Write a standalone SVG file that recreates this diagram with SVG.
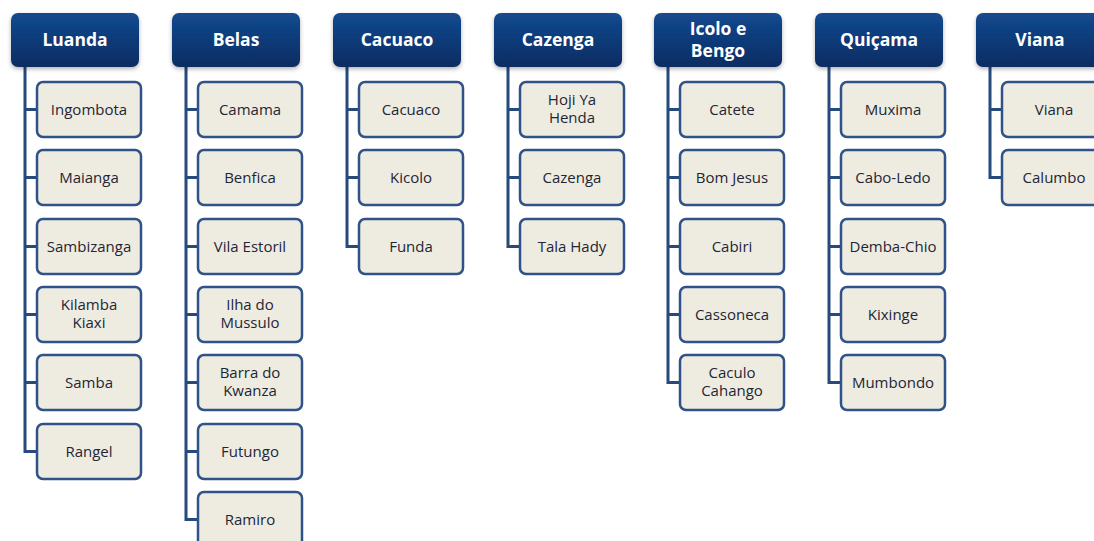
<svg xmlns="http://www.w3.org/2000/svg" width="1094" height="541" viewBox="0 0 1094 541">
<defs>
<linearGradient id="hg" x1="0" y1="0" x2="0" y2="1">
<stop offset="0" stop-color="#134a8f"/>
<stop offset="1" stop-color="#0a2c62"/>
</linearGradient>
<filter id="sh" x="-10%" y="-10%" width="120%" height="140%">
<feDropShadow dx="0" dy="2" stdDeviation="2" flood-color="#000" flood-opacity="0.3"/>
</filter>
<style>
.h rect{fill:url(#hg);filter:url(#sh)}
.h text{font-family:"Open Sans","DejaVu Sans",sans-serif;font-weight:700;font-size:17.5px;fill:#fff;text-anchor:middle}
.c rect{fill:#eeece1;stroke:#2f5289;stroke-width:2.5}
.c text{font-family:"Open Sans","DejaVu Sans",sans-serif;font-size:15px;fill:#1e2636;text-anchor:middle}
.cn path{fill:none;stroke:#274a7d;stroke-width:3;stroke-linejoin:miter}
</style>
</defs>
<rect width="1094" height="541" fill="#fff"/>
<g class="cn" id="connectors">
<path d="M25 67V451.5H37M25 109.5H37M25 177.5H37M25 246.5H37M25 314.5H37M25 382.5H37"/>
<path d="M186 67V519.5H198M186 109.5H198M186 177.5H198M186 246.5H198M186 314.5H198M186 382.5H198M186 451.5H198"/>
<path d="M347 67V246.5H359M347 109.5H359M347 177.5H359"/>
<path d="M508 67V246.5H520M508 109.5H520M508 177.5H520"/>
<path d="M668 67V382.5H680M668 109.5H680M668 177.5H680M668 246.5H680M668 314.5H680"/>
<path d="M829 67V382.5H841M829 109.5H841M829 177.5H841M829 246.5H841M829 314.5H841"/>
<path d="M990 67V177.5H1002M990 109.5H1002"/>
</g>
<g class="h" id="h-luanda"><rect x="11" y="13" width="128" height="54" rx="7"/><text x="75" y="46">Luanda</text></g>
<g class="h" id="h-belas"><rect x="172" y="13" width="128" height="54" rx="7"/><text x="236" y="46">Belas</text></g>
<g class="h" id="h-cacuaco"><rect x="333" y="13" width="128" height="54" rx="7"/><text x="397" y="46">Cacuaco</text></g>
<g class="h" id="h-cazenga"><rect x="494" y="13" width="128" height="54" rx="7"/><text x="558" y="46">Cazenga</text></g>
<g class="h" id="h-icolo"><rect x="654" y="13" width="128" height="54" rx="7"/><text x="718" y="35">Icolo e</text><text x="718" y="57">Bengo</text></g>
<g class="h" id="h-quicama"><rect x="815" y="13" width="128" height="54" rx="7"/><text x="879" y="46">Quiçama</text></g>
<g class="h" id="h-viana"><rect x="976" y="13" width="128" height="54" rx="7"/><text x="1040" y="46">Viana</text></g>

<g class="c" id="ingombota"><rect x="37" y="82" width="104" height="55" rx="6"/><text x="89" y="114.5">Ingombota</text></g>
<g class="c" id="maianga"><rect x="37" y="150" width="104" height="55" rx="6"/><text x="89" y="182.5">Maianga</text></g>
<g class="c" id="sambizanga"><rect x="37" y="219" width="104" height="55" rx="6"/><text x="89" y="251.5">Sambizanga</text></g>
<g class="c" id="kilamba"><rect x="37" y="287" width="104" height="55" rx="6"/><text x="89" y="309.5">Kilamba</text><text x="89" y="327.5">Kiaxi</text></g>
<g class="c" id="samba"><rect x="37" y="355" width="104" height="55" rx="6"/><text x="89" y="387.5">Samba</text></g>
<g class="c" id="rangel"><rect x="37" y="424" width="104" height="55" rx="6"/><text x="89" y="456.5">Rangel</text></g>

<g class="c" id="camama"><rect x="198" y="82" width="104" height="55" rx="6"/><text x="250" y="114.5">Camama</text></g>
<g class="c" id="benfica"><rect x="198" y="150" width="104" height="55" rx="6"/><text x="250" y="182.5">Benfica</text></g>
<g class="c" id="vila-estoril"><rect x="198" y="219" width="104" height="55" rx="6"/><text x="250" y="251.5">Vila Estoril</text></g>
<g class="c" id="ilha"><rect x="198" y="287" width="104" height="55" rx="6"/><text x="250" y="309.5">Ilha do</text><text x="250" y="327.5">Mussulo</text></g>
<g class="c" id="barra"><rect x="198" y="355" width="104" height="55" rx="6"/><text x="250" y="377.5">Barra do</text><text x="250" y="395.5">Kwanza</text></g>
<g class="c" id="futungo"><rect x="198" y="424" width="104" height="55" rx="6"/><text x="250" y="456.5">Futungo</text></g>
<g class="c" id="ramiro"><rect x="198" y="492" width="104" height="55" rx="6"/><text x="250" y="524.5">Ramiro</text></g>

<g class="c" id="cacuaco"><rect x="359" y="82" width="104" height="55" rx="6"/><text x="411" y="114.5">Cacuaco</text></g>
<g class="c" id="kicolo"><rect x="359" y="150" width="104" height="55" rx="6"/><text x="411" y="182.5">Kicolo</text></g>
<g class="c" id="funda"><rect x="359" y="219" width="104" height="55" rx="6"/><text x="411" y="251.5">Funda</text></g>

<g class="c" id="hoji"><rect x="520" y="82" width="104" height="55" rx="6"/><text x="572" y="104.5">Hoji Ya</text><text x="572" y="122.5">Henda</text></g>
<g class="c" id="cazenga"><rect x="520" y="150" width="104" height="55" rx="6"/><text x="572" y="182.5">Cazenga</text></g>
<g class="c" id="tala"><rect x="520" y="219" width="104" height="55" rx="6"/><text x="572" y="251.5">Tala Hady</text></g>

<g class="c" id="catete"><rect x="680" y="82" width="104" height="55" rx="6"/><text x="732" y="114.5">Catete</text></g>
<g class="c" id="bom-jesus"><rect x="680" y="150" width="104" height="55" rx="6"/><text x="732" y="182.5">Bom Jesus</text></g>
<g class="c" id="cabiri"><rect x="680" y="219" width="104" height="55" rx="6"/><text x="732" y="251.5">Cabiri</text></g>
<g class="c" id="cassoneca"><rect x="680" y="287" width="104" height="55" rx="6"/><text x="732" y="319.5">Cassoneca</text></g>
<g class="c" id="caculo"><rect x="680" y="355" width="104" height="55" rx="6"/><text x="732" y="377.5">Caculo</text><text x="732" y="395.5">Cahango</text></g>

<g class="c" id="muxima"><rect x="841" y="82" width="104" height="55" rx="6"/><text x="893" y="114.5">Muxima</text></g>
<g class="c" id="cabo-ledo"><rect x="841" y="150" width="104" height="55" rx="6"/><text x="893" y="182.5">Cabo-Ledo</text></g>
<g class="c" id="demba-chio"><rect x="841" y="219" width="104" height="55" rx="6"/><text x="893" y="251.5">Demba-Chio</text></g>
<g class="c" id="kixinge"><rect x="841" y="287" width="104" height="55" rx="6"/><text x="893" y="319.5">Kixinge</text></g>
<g class="c" id="mumbondo"><rect x="841" y="355" width="104" height="55" rx="6"/><text x="893" y="387.5">Mumbondo</text></g>

<g class="c" id="viana"><rect x="1002" y="82" width="104" height="55" rx="6"/><text x="1054" y="114.5">Viana</text></g>
<g class="c" id="calumbo"><rect x="1002" y="150" width="104" height="55" rx="6"/><text x="1054" y="182.5">Calumbo</text></g>
</svg>
